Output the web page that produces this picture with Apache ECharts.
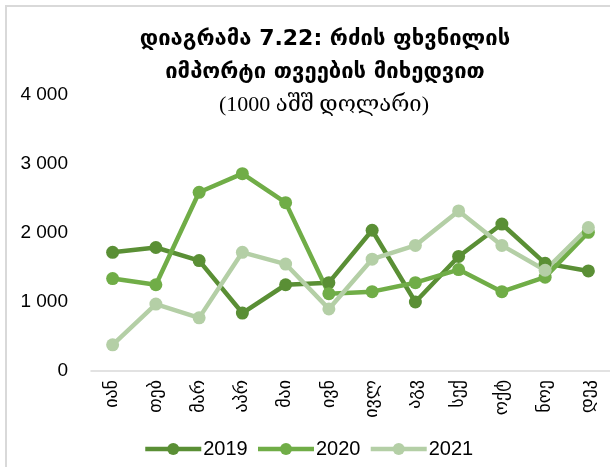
<!DOCTYPE html>
<html>
<head>
<meta charset="utf-8">
<script src="https://cdn.jsdelivr.net/npm/echarts@6/dist/echarts.min.js"></script>
<style>
  html, body { margin: 0; padding: 0; background: #ffffff; }
  #chart { width: 610px; height: 467px; }
</style>
</head>
<body>
<div id="chart"></div>
<script>
const months = ['იან', 'თებ', 'მარ', 'აპრ', 'მაი', 'ივნ', 'ივლ', 'აგვ', 'სექ', 'ოქტ', 'ნოე', 'დეკ'];
const imports2019 = [1720, 1790, 1600, 840, 1250, 1280, 2040, 1000, 1660, 2130, 1560, 1450];
const imports2020 = [1340, 1250, 2590, 2860, 2440, 1120, 1150, 1280, 1470, 1150, 1360, 2010];
const imports2021 = [380, 970, 770, 1720, 1550, 900, 1620, 1820, 2320, 1820, 1460, 2080];
const yTicks = [0, 1000, 2000, 3000, 4000];

const seriesDefinitions = [
  { name: '2019', values: imports2019, color: '#5a8f35' },
  { name: '2020', values: imports2020, color: '#70ad47' },
  { name: '2021', values: imports2021, color: '#b4cfa6' }
];

const georgianSans = '"DejaVu Sans", "Noto Sans", sans-serif';
const latinSans = '"Liberation Sans", Arial, "DejaVu Sans", sans-serif';

const chart = echarts.init(document.querySelector('#chart'), null, { renderer: 'canvas' });

chart.setOption({
  animation: false,
  backgroundColor: '#ffffff',
  title: [
    {
      text: 'დიაგრამა 7.22: რძის ფხვნილის\nიმპორტი თვეების მიხედვით',
      left: 320,
      top: 18,
      textAlign: 'center',
      textStyle: {
        fontFamily: georgianSans,
        fontSize: 22,
        fontWeight: 'bold',
        color: '#000000',
        lineHeight: 33
      }
    },
    {
      text: '(1000 აშშ დოლარი)',
      left: 319,
      top: 89,
      textAlign: 'center',
      textStyle: {
        fontFamily: '"Liberation Serif", "DejaVu Serif", "DejaVu Sans", serif',
        fontSize: 22,
        fontWeight: 'normal',
        color: '#000000'
      }
    }
  ],
  graphic: [
    {
      type: 'polyline',
      silent: true,
      shape: { points: [[6, 467], [6, 6], [610, 6]] },
      style: { stroke: '#d9d9d9', lineWidth: 2, fill: null }
    }
  ],
  legend: {
    bottom: 3,
    left: 138,
    itemWidth: 56,
    itemHeight: 15,
    itemGap: 8,
    lineStyle: { width: 4.5 },
    textStyle: {
      fontFamily: latinSans,
      fontSize: 20,
      color: '#000000',
      padding: [0, 0, 0, -3]
    },
    data: seriesDefinitions.map(definition => definition.name)
  },
  grid: {
    left: 91,
    top: 95,
    width: 528,
    height: 276,
    containLabel: false
  },
  xAxis: {
    type: 'category',
    data: months,
    boundaryGap: true,
    axisLine: { lineStyle: { color: '#d9d9d9', width: 1.5 } },
    axisTick: { show: false },
    axisLabel: {
      rotate: 90,
      margin: 9,
      interval: 0,
      fontFamily: georgianSans,
      fontSize: 18,
      color: '#000000'
    },
    splitLine: { show: false }
  },
  yAxis: {
    type: 'value',
    min: yTicks[0],
    max: yTicks[yTicks.length - 1],
    interval: yTicks[1] - yTicks[0],
    axisLine: { show: false },
    axisTick: { show: false },
    splitLine: { show: false },
    axisLabel: {
      margin: 23,
      fontFamily: latinSans,
      fontSize: 19,
      color: '#000000',
      formatter: value => String(value).replace(/\B(?=(\d{3})+(?!\d))/g, ' ')
    }
  },
  series: seriesDefinitions.map(definition => ({
    name: definition.name,
    type: 'line',
    data: definition.values,
    symbol: 'circle',
    symbolSize: 13,
    showSymbol: true,
    smooth: false,
    lineStyle: { color: definition.color, width: 4.5 },
    itemStyle: { color: definition.color },
    emphasis: { disabled: true }
  }))
});
</script>
</body>
</html>
